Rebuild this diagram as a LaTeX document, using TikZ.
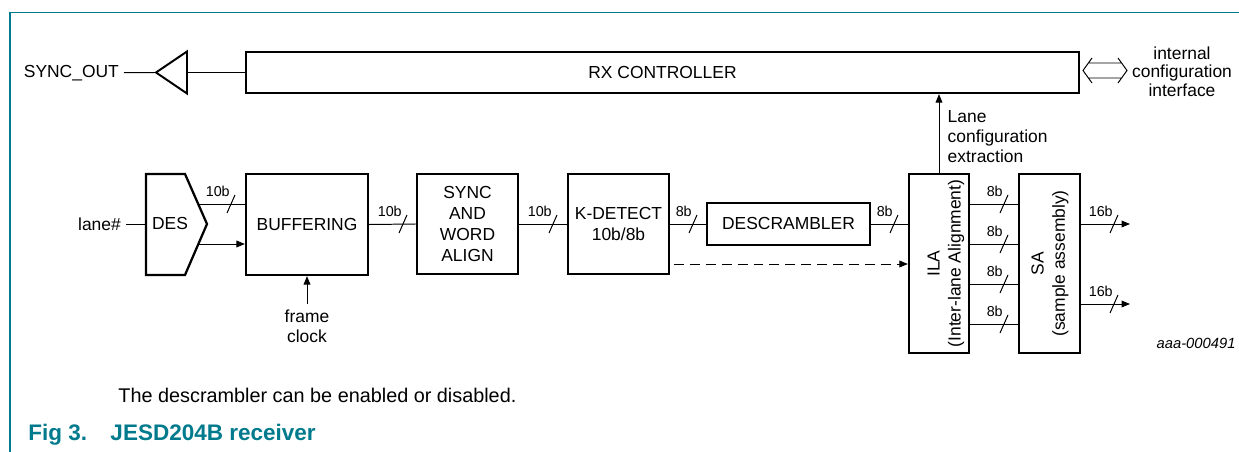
\documentclass[tikz,border=0pt]{standalone}
\usepackage{fontspec}
\setmainfont{Liberation Sans}
\usetikzlibrary{arrows.meta,calc}
\definecolor{nxpteal}{HTML}{007A8C}
% bus width mark: slash on a line plus its width label
\newcommand{\busmark}[2]{%
  \draw[slash] ($(#1)+(-4,9)$) -- ($(#1)+(4,-9)$) node[buslbl] {#2};}

\begin{document}
\begin{tikzpicture}[x=0.025cm,y=-0.025cm,line width=0.7pt,
  >={Triangle[length=6pt,width=4.8pt]},
  every node/.style={font=\fontsize{12.4}{15}\selectfont},
  blk/.style={draw,line width=1.6pt,inner sep=0pt,align=center},
  slash/.style={line width=0.7pt},
  buslbl/.style={anchor=base east,xshift=-0.12cm,yshift=-0.05cm,inner sep=0pt,
    font=\fontsize{10.2}{12}\selectfont}]
\useasboundingbox (0,0) rectangle (1239,452);
\draw[nxpteal,line width=0.9pt] (1239,12.5) -- (10,12.5) -- (10,452);

%top row
\node[blk,minimum width=20.825cm,minimum height=1.025cm] (rx) at (662.5,72.5) {RX CONTROLLER};
\coordinate (trt) at (156,72.5);
\coordinate (trb) at (187,72.5);
\draw[line width=1.4pt] (187,51.5) -- (187,93.5) -- (trt) -- cycle;
\node[anchor=east] (sync) at (124,73) {SYNC\_OUT};
\draw (sync) -- (trt);
\draw (trb) -- (rx.west);
%configuration interface
\draw (1092,58) -- (1083,70.5) -- (1092,83)
      (1088.4,63) -- (1121.6,63) (1088.4,78) -- (1121.6,78)
      (1118,58) -- (1127,70.5) -- (1118,83);
\node[align=center,font=\fontsize{12.4}{13.3}\selectfont] (icfg) at (1182,71.5) {internal\\configuration\\interface};
\node[align=left,anchor=west,font=\fontsize{12.4}{14.4}\selectfont] (lcfg) at (942.5,136.5) {Lane\\configuration\\extraction};

%lane path
\node[anchor=east] (lane) at (126,224) {lane\#};
\coordinate (desin) at (146,224);
\draw[line width=1.6pt] (146,174) -- (185,174) -- (207,224) -- (185,275) -- (146,275) -- cycle;
\node (des) at (170,224) {DES};
\coordinate (deshi) at (198.2,204);
\coordinate (deslo) at (198.4,244);
\node[blk,minimum width=3.05cm,minimum height=2.525cm] (buf) at (307,224.5) {BUFFERING};
\node[blk,minimum width=2.525cm,minimum height=2.5cm] (swa) at (467.5,224) {SYNC\\AND\\WORD\\ALIGN};
\node[blk,minimum width=2.525cm,minimum height=2.5cm,font=\fontsize{12.4}{15.6}\selectfont] (kd) at (618.5,224) {K-DETECT\\10b/8b};
\node[blk,minimum width=4.075cm,minimum height=1.05cm] (desc) at (788.5,224) {DESCRAMBLER};
\node[blk,minimum width=1.5cm,minimum height=4.475cm] (ila) at (939,263.5) {};
\node[rotate=90,align=center] (ilat) at (946,263.5) {ILA\\(Inter-lane Alignment)};
\node[blk,minimum width=1.525cm,minimum height=4.475cm] (sa) at (1049.5,263.5) {};
\node[rotate=90,align=center] (sat) at (1050,263.5) {SA\\(sample assembly)};
\node[align=center,font=\fontsize{12.4}{14.2}\selectfont] (fclk) at (307,326) {frame\\clock};

\draw (lane) -- (desin);
\draw (deshi) -- (deshi -| buf.west); \busmark{231,204}{10b}
\draw[->] (deslo) -- (deslo -| buf.west);
\draw[->] (fclk.north) -- (buf.south);
\draw (buf.east) -- (swa.west); \busmark{403,224}{10b}
\draw (swa) -- (kd); \busmark{553,224}{10b}
\draw (kd) -- (desc); \busmark{693,224}{8b}
\draw (desc) -- (desc -| ila.west); \busmark{894,224}{8b}
\coordinate (kdlo) at ([shift={(4,40)}]kd.east);
\draw[->,dash pattern=on 7pt off 4.3pt] (kdlo) -- (kdlo -| ila.west);
\draw[->] (ila.north) -- (ila.north |- rx.south);
\foreach \y in {204,244,284,324} {
  \draw (ila.east |- 0,\y) -- (sa.west |- 0,\y); \busmark{1004,\y}{8b}
}
\coordinate (out1) at (1130,224);
\coordinate (out2) at (1130,304);
\draw[->] (sa.east |- out1) -- (out1); \busmark{1114,224}{16b}
\draw[->] (sa.east |- out2) -- (out2); \busmark{1114,304}{16b}

\node[anchor=base east,inner sep=0pt,font=\itshape\fontsize{10.5}{12}\selectfont] (code) at (1236,349) {aaa-000491};

%caption
\node[anchor=base west,inner sep=0pt,font=\fontsize{14.1}{17}\selectfont] (note) at (118,403) {The descrambler can be enabled or disabled.};
\node[anchor=base west,inner sep=0pt,text=nxpteal,font=\bfseries\fontsize{16}{19}\selectfont] (fignum) at (28,441) {Fig 3.};
\node[anchor=base west,inner sep=0pt,text=nxpteal,font=\bfseries\fontsize{16}{19}\selectfont] (figtitle) at (110,441) {JESD204B receiver};
\end{tikzpicture}
\end{document}
